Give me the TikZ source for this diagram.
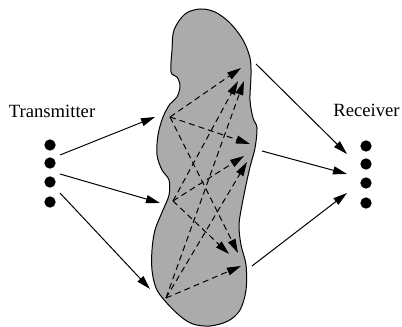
\documentclass[tikz,border=0pt]{standalone}
\usepackage{fontspec}
\setmainfont{Liberation Serif}
\usetikzlibrary{arrows.meta}
\begin{document}
\begin{tikzpicture}[x=0.75pt,y=-0.75pt,
  dotnode/.style={circle,fill=black,inner sep=0pt,minimum size=8.5pt},
  lbl/.style={font=\fontsize{14}{16}\selectfont,anchor=base,inner sep=0pt},
  link/.style={line width=0.75pt,-{Triangle[length=10.5pt,width=6pt]}},
  dlink/.style={line width=0.75pt,dash pattern=on 4.5pt off 3pt,-{Triangle[length=10.5pt,width=6pt]}},
  blobstyle/.style={fill=black!33,draw=black,line width=0.75pt}]
\useasboundingbox (0,0) rectangle (402,327);
% scatterer
\fill[blobstyle] plot[smooth cycle,tension=0.55] coordinates {
 (200,9) (215,12) (230,23) (243,40) (250,58) (251,75) (250,100) (253,118)
 (257,128) (255,148) (250,167) (246,185) (242,205) (239,225) (241,245)
 (246,265) (246,290) (240,310) (228,321) (210,326) (193,324) (180,316)
 (165,301) (156,288) (152,270) (152,250) (155,230) (163,210) (169,195)
 (169,180) (162,170) (157,155) (158,135) (163,117) (170,104) (177,97)
 (180,86) (177,77) (171,72) (172,50) (174,30) (185,14)};
% labels
\node[lbl] (tx) at (52,118) {Transmitter};
\node[lbl] (rx) at (366.5,117) {Receiver};
% antenna dots
\node[dotnode] (t1) at (50,145) {};
\node[dotnode] (t2) at (50,163) {};
\node[dotnode] (t3) at (50,182) {};
\node[dotnode] (t4) at (50,202) {};
\node[dotnode] (r1) at (366,146) {};
\node[dotnode] (r2) at (366,164) {};
\node[dotnode] (r3) at (366,183) {};
\node[dotnode] (r4) at (366,203) {};
% connector end points
\coordinate (ts1) at (60,155);
\coordinate (ts2) at (60,174);
\coordinate (ts3) at (60,193);
\coordinate (in1) at (155,117);
\coordinate (in2) at (160,203);
\coordinate (in3) at (150,289);
\coordinate (out1) at (256,64);
\coordinate (out2) at (262,151);
\coordinate (out3) at (252,266);
\coordinate (re1) at (347,154);
\coordinate (re2) at (347,174);
\coordinate (re3) at (347,193);
% scattering points
\coordinate (A) at (170,117);
\coordinate (B) at (173,201);
\coordinate (C) at (166,298);
\coordinate (PA) at (241,68);
\coordinate (PB) at (238,81);
\coordinate (PC) at (244,81);
\coordinate (QA) at (250,144);
\coordinate (QB) at (244,156);
\coordinate (QC) at (247,162);
\coordinate (SA) at (238,253);
\coordinate (SB) at (229,254);
\coordinate (SC) at (241,266);
% solid arrows
\draw[link] (ts1) -- (in1);
\draw[link] (ts2) -- (in2);
\draw[link] (ts3) -- (in3);
\draw[link] (out1) -- (re1);
\draw[link] (out2) -- (re2);
\draw[link] (out3) -- (re3);
% dashed arrows
\draw[dlink] (A) -- (PA);
\draw[dlink] (A) -- (QA);
\draw[dlink] (A) -- (SA);
\draw[dlink] (B) -- (PB);
\draw[dlink] (B) -- (QB);
\draw[dlink] (B) -- (SB);
\draw[dlink] (C) -- (PC);
\draw[dlink] (C) -- (QC);
\draw[dlink] (C) -- (SC);
\end{tikzpicture}
\end{document}
